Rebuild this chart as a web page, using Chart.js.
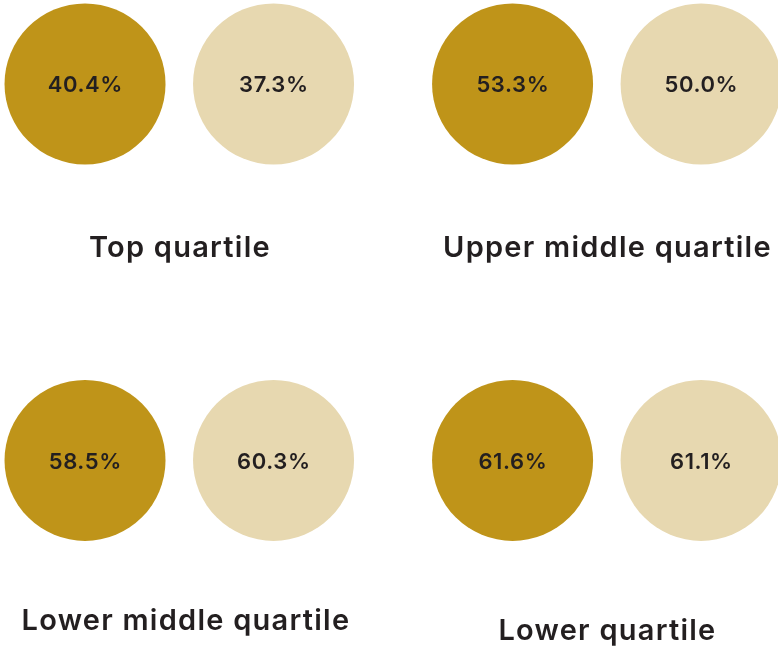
<!DOCTYPE html>
<html>
<head>
<meta charset="utf-8">
<script src="https://cdn.jsdelivr.net/npm/chart.js@4/dist/chart.umd.min.js"></script>
<style>
  html, body { margin: 0; padding: 0; background: #ffffff; }
  #wrap { width: 778px; height: 646px; position: relative; }
</style>
</head>
<body>
<div id="wrap"><canvas id="c" width="778" height="646"></canvas></div>
<script>
// ---- data ----
const quartiles = ["Top quartile", "Upper middle quartile", "Lower middle quartile", "Lower quartile"];
const seriesA = [40.4, 53.3, 58.5, 61.6];   // dark circles
const seriesB = [37.3, 50.0, 60.3, 61.1];   // light circles
const seriesColors = ["#BF9419", "#E7D8B0"];

// ---- layout (grid of quartile panels) ----
const COL_SPAN = 2.268;   // x distance between the two panel columns, in circle units
function pointsFor(values, seriesIndex) {
  return values.map((v, q) => ({
    x: (q % 2) * COL_SPAN + seriesIndex,
    y: Math.floor(q / 2),
    v: v
  }));
}

function spacedText(ctx, text, x, y, spacing) {
  ctx.letterSpacing = spacing + 'px';
  ctx.fillText(text, x + spacing / 2, y);
  ctx.letterSpacing = '0px';
}

const labelPlugin = {
  id: 'circleLabels',
  afterDatasetsDraw(chart, args, opts) {
    const ctx = chart.ctx;
    ctx.save();
    ctx.textAlign = 'center';
    ctx.textBaseline = 'middle';
    ctx.fillStyle = '#231f20';
    ctx.font = '600 22px Inter, "Open Sans", sans-serif';
    chart.data.datasets.forEach((ds, di) => {
      const meta = chart.getDatasetMeta(di);
      meta.data.forEach((el, i) => {
        spacedText(ctx, ds.data[i].v.toFixed(1) + '%', el.x, el.y + 1.5, 0.6);
      });
    });
    // quartile titles
    const m0 = chart.getDatasetMeta(0), m1 = chart.getDatasetMeta(1);
    ctx.font = '600 29px Inter, "Open Sans", sans-serif';
    quartiles.forEach((name, q) => {
      const a = m0.data[q], b = m1.data[q];
      const cx = (a.x + b.x) / 2 + opts.titleDx[q];
      spacedText(ctx, name, cx, a.y + opts.titleDy[q], 1.25);
    });
    ctx.restore();
  }
};

new Chart(document.getElementById('c'), {
  type: 'scatter',
  data: {
    datasets: [
      { label: 'A', data: pointsFor(seriesA, 0), backgroundColor: seriesColors[0], borderWidth: 0, pointRadius: 80.5, pointHoverRadius: 80.5, clip: false },
      { label: 'B', data: pointsFor(seriesB, 1), backgroundColor: seriesColors[1], borderWidth: 0, pointRadius: 80.5, pointHoverRadius: 80.5, clip: false }
    ]
  },
  options: {
    responsive: false,
    animation: false,
    events: [],
    layout: { padding: 0, autoPadding: false },
    plugins: {
      legend: { display: false },
      tooltip: { enabled: false },
      circleLabels: { titleDx: [0, 0, 6, 0], titleDy: [164, 164, 161, 171] }
    },
    scales: {
      x: { type: 'linear', display: false, min: -0.451, max: 3.676 },
      y: { type: 'linear', display: false, reverse: true, min: -0.223, max: 1.493 }
    }
  },
  plugins: [labelPlugin]
});
</script>
</body>
</html>
